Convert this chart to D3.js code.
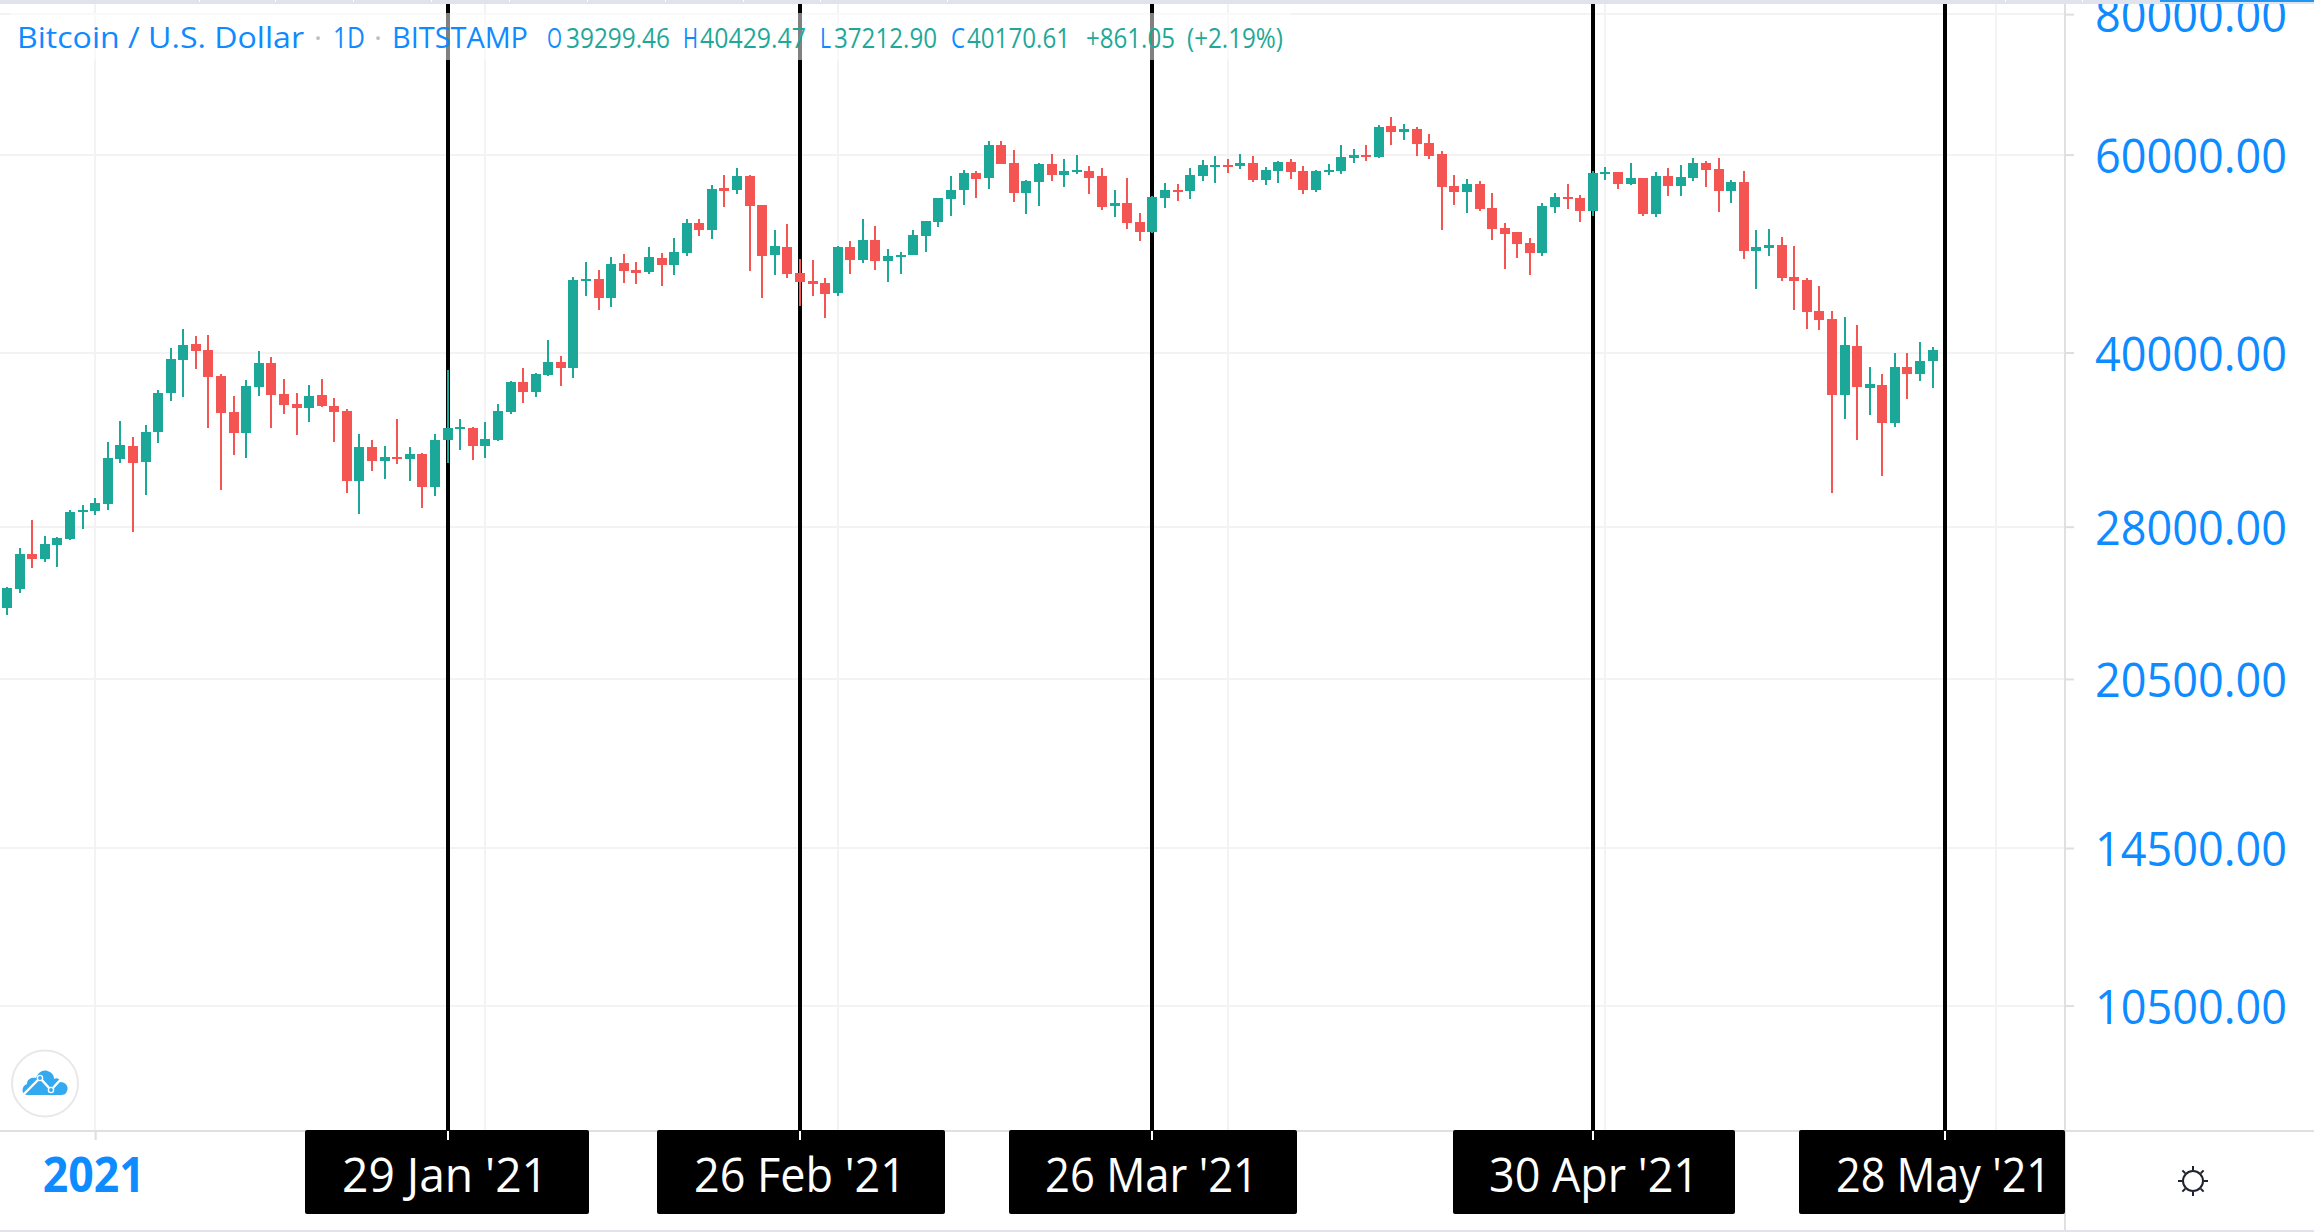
<!DOCTYPE html>
<html><head><meta charset="utf-8">
<script src="https://cdn.jsdelivr.net/npm/d3@7"></script>
<style>html,body{margin:0;background:#fff;overflow:hidden}svg{display:block}text{font-family:"Open Sans",sans-serif}</style>
</head><body><svg id="c" width="2314" height="1232"></svg>
<script>
const firstDay = Date.UTC(2020, 11, 25);
const priceTicks = [80000, 60000, 40000, 28000, 20500, 14500, 10500];
const monthTicks = [[2021,0,1],[2021,1,1],[2021,2,1],[2021,3,1],[2021,4,1],[2021,5,1]];
const markedDates = [[2021,0,29,"29 Jan '21"],[2021,1,26,"26 Feb '21"],[2021,2,26,"26 Mar '21"],[2021,3,30,"30 Apr '21"],[2021,4,28,"28 May '21"]];
const opens = [23726,24667,26499,26229,26992,27325,28878,28937,29354,32186,33054,31989,34015,36841,39416,40728,40231,38146,35436,33946,37297,39174,36766,36021,35728,36691,35874,35509,30769,32987,32055,32318,32186,32517,30394,33463,34225,34295,33054,33463,35436,37680,36917,38224,39255,38776,46333,46523,44748,48072,47388,47194,48566,47875,49066,52173,51430,56047,55818,57441,54130,48865,49672,47098,46333,46144,45209,49672,48368,50389,48269,48666,48865,50803,52279,54799,55818,57794,57206,61203,58989,55476,56740,58869,57558,57913,58031,57441,54020,54353,52279,51220,54912,55856,55704,57441,58588,58788,58628,58989,56972,58031,59110,58031,55818,57913,58031,59596,59963,59718,63630,62853,63240,61454,60086,56277,55590,56508,53799,51641,51220,50080,49066,53909,55024,54912,53470,57637,57913,56508,57206,53143,57441,56277,57206,58989,58269,55704,56740,49267,49570,49876,46714,46428,43574,42866,36691,40561,37220,37450,34647,38855,38302,39299.46];
const highs = [24768,26827,28409,27494,27437,28996,29294,29717,33326,34790,33669,34506,37068,40396,41998,41400,41485,38302,36616,37835,40148,39658,37912,36841,37450,37912,36466,35655,33876,33463,33054,34932,32987,32584,33876,38617,34932,34365,34718,36021,37758,38776,38381,41063,39740,46714,48170,47388,48666,48965,48170,49672,49066,50595,52601,52601,56392,57558,58389,57558,54130,51430,52066,48467,48368,46618,49774,50286,52601,51853,49469,49166,51430,52387,54912,57441,58150,58031,61706,61706,60580,56972,58989,60086,59474,59963,58628,58389,55818,57206,53251,55137,56623,56508,58389,59353,59841,59474,60086,59841,58508,59231,59474,58628,58150,58869,61203,60704,61203,63760,64813,63891,63500,62597,60456,57558,57089,56856,55476,52173,51220,50595,54353,55476,56508,55250,58031,58508,57913,58989,57206,57913,58389,58748,59596,59231,59596,56972,58031,51430,51536,50699,49774,46618,45861,43574,43042,42343,38855,38302,39984,39984,40895,40429.47];
const lows = [23389,24466,25751,26069,25803,27269,27890,28701,28996,31924,27720,29900,33258,36243,36541,38696,34295,30208,32451,32252,36616,34295,35292,33807,34718,35801,33326,30023,28760,31406,30896,31859,30769,29115,29839,31924,32785,32121,32252,33394,35292,36095,36541,38146,37373,37990,44932,43663,43932,46144,46049,47001,45861,46905,48765,50803,50492,53909,55363,47291,44748,46905,46618,44022,44932,42954,44932,47001,48072,47388,46238,47001,48865,49166,51747,52925,54130,54912,55932,58869,54464,53143,54020,56856,56162,57676,55363,53579,52817,51536,50286,51116,53799,54575,54799,56856,56623,57794,58269,56740,56392,56623,57089,55363,55590,57558,57676,58989,59231,59596,61203,61833,59841,59474,51430,54130,53251,53470,50389,47485,48566,46905,48765,53251,53689,52279,52925,56972,55932,56392,52925,52817,55137,55137,56856,56162,53360,54353,48467,45580,48765,46333,43663,41998,41912,30023,34932,33463,35219,31086,34365,36392,37758,37212.90];
const closes = [24718,26499,26229,27047,27381,28878,28996,29415,32252,33122,31924,34015,36841,39496,40645,40148,38068,35364,33946,37373,39174,36691,35948,35728,36616,35874,35436,30769,32987,32055,32318,32186,32517,30394,33463,34295,34365,33054,33531,35509,37680,36917,38302,39255,38776,46428,46523,44748,47973,47291,47098,48666,47875,49166,52173,51430,55932,55704,57441,54020,48765,49774,47001,46238,46049,45116,49672,48368,50389,48269,48765,48865,50907,52387,54912,55818,57794,57089,61203,58869,55476,56856,58869,57558,58031,58150,57206,53909,54353,52173,51220,55024,55818,55666,57558,58748,58748,58548,58989,56972,58150,59110,57913,55818,58031,58150,59718,59963,59718,63500,62853,63240,61328,59841,56162,55590,56508,53689,51536,51011,49978,49066,54020,55024,54799,53470,57794,57873,56508,57206,53143,57441,56277,57323,58989,58150,55704,56740,49267,49672,49876,46618,46333,43484,42778,36691,40645,37297,37526,34647,38855,38302,39335,40170.61];
const legendParts = [["Bitcoin / U.S. Dollar",17,304,"#0d8bff",30],["\u00b7",314,322,"#b9bcc6",30],["1D",333,365,"#0d8bff",30],["\u00b7",374,382,"#b9bcc6",30],["BITSTAMP",392,528,"#0d8bff",30],["O",547,562,"#0d8bff",27],["39299.46",566,670,"#1fa898",27],["H",683,698,"#0d8bff",27],["40429.47",700,806,"#1fa898",27],["L",820,831,"#0d8bff",27],["37212.90",834,937,"#1fa898",27],["C",951,965,"#0d8bff",27],["40170.61",967,1070,"#1fa898",27],["+861.05",1086,1175,"#1fa898",27],["(+2.19%)",1187,1283,"#1fa898",27]];
const labelBoxes = [[305,589,342,548],[657,945,694,906],[1009,1297,1045,1258],[1453,1735,1489,1699],[1799,2065,1836,2051]];

const UP = "#1ca899", DOWN = "#f45553", GRID = "#f3f3f3", EDGE = "#e0e0e2", BLUE = "#0d8bff";
const plotR = 2065, plotB = 1131, plotT = 4;
const svg = d3.select("#c");
const day = 864e5;
const x = d3.scaleUtc().domain([firstDay, Date.UTC(2021,5,1)]).range([7.1, 7.1 + 158 * 12.585]);
const y = d3.scaleLog().domain([80000, 10500]).range([14.1, 1005.6]);
const X = t => Math.round(x(t));
const dates = opens.map((_, i) => firstDay + i * day);

// grid and axes
const monthDates = monthTicks.map(m => Date.UTC(...m));
svg.append("g").selectAll("rect").data(priceTicks).join("rect").attr("x",0).attr("width",plotR).attr("y",d=>Math.round(y(d))-1).attr("height",2).attr("fill",GRID).attr("shape-rendering","crispEdges");
svg.append("g").selectAll("rect").data(monthDates).join("rect").attr("x",d=>X(d)-1).attr("width",2).attr("y",plotT).attr("height",plotB-plotT).attr("fill",GRID).attr("shape-rendering","crispEdges");

const yAxis = d3.axisRight(y).tickValues(priceTicks).tickSize(9).tickPadding(21).tickFormat(d3.format(".2f"));
const yg = svg.append("g").attr("transform",`translate(${plotR},0)`).call(yAxis);
yg.select(".domain").remove();
yg.selectAll(".tick line").attr("stroke","#dedede").attr("stroke-width",2);
yg.selectAll(".tick text").attr("fill",BLUE).attr("font-size",48).attr("textLength",192).attr("lengthAdjust","spacingAndGlyphs").attr("x",30).attr("dy",0).attr("y",17.5);

const xAxis = d3.axisBottom(x).tickValues(monthDates.slice(0,1)).tickSize(9).tickFormat(()=> "2021");
const xg = svg.append("g").attr("transform",`translate(0,${plotB})`).call(xAxis);
xg.select(".domain").remove();
xg.selectAll(".tick line").attr("stroke","#dedede").attr("stroke-width",2);
xg.selectAll(".tick text").attr("fill",BLUE).attr("font-size",48).attr("font-weight",700).attr("y",61).attr("dy",0).attr("x",-2).attr("textLength",102).attr("lengthAdjust","spacingAndGlyphs");
svg.append("g").selectAll("rect").data(monthDates.slice(1)).join("rect").attr("x",d=>X(d)-1).attr("width",2).attr("y",plotB).attr("height",9).attr("fill","#dedede");

// borders
svg.append("rect").attr("x",plotR-1).attr("width",2).attr("y",plotT).attr("height",1232-plotT).attr("fill",EDGE);
svg.append("rect").attr("x",0).attr("width",2314).attr("y",plotB-1).attr("height",2).attr("fill",EDGE);
svg.append("rect").attr("x",0).attr("width",2314).attr("y",1230).attr("height",2).attr("fill","#e0e3eb");

// date markers
const marks = markedDates.map((d,i)=>({t:Date.UTC(d[0],d[1],d[2]),label:d[3],box:labelBoxes[i]}));
svg.append("g").selectAll("rect").data(marks).join("rect").attr("x",d=>X(d.t)-2).attr("width",4).attr("y",plotT).attr("height",plotB-plotT).attr("fill","#000").attr("shape-rendering","crispEdges");

// candles
const cg = svg.append("g").attr("shape-rendering","crispEdges");
cg.selectAll("rect.w").data(dates).join("rect").attr("class","w").attr("x",d=>X(d)-1).attr("width",2).attr("y",(d,i)=>y(highs[i])).attr("height",(d,i)=>y(lows[i])-y(highs[i])).attr("fill",(d,i)=>closes[i]>=opens[i]?UP:DOWN);
cg.selectAll("rect.b").data(dates).join("rect").attr("class","b").attr("x",d=>X(d)-5).attr("width",10).attr("y",(d,i)=>y(Math.max(opens[i],closes[i]))).attr("height",(d,i)=>Math.max(2,Math.abs(y(opens[i])-y(closes[i])))).attr("fill",(d,i)=>closes[i]>=opens[i]?UP:DOWN);

// legend veil and text
svg.append("rect").attr("x",10).attr("width",1280).attr("y",13).attr("height",47).attr("fill","#fff").attr("fill-opacity",.5);
svg.append("g").selectAll("text").data(legendParts).join("text").attr("x",d=>d[1]).attr("y",48).attr("font-size",d=>d[4]).attr("fill",d=>d[3]).attr("textLength",d=>d[2]-d[1]).attr("lengthAdjust","spacingAndGlyphs").text(d=>d[0]);

// date labels
const lg = svg.append("g").selectAll("g").data(marks).join("g");
lg.append("rect").attr("x",d=>d.box[0]).attr("width",d=>d.box[1]-d.box[0]).attr("y",plotB-1).attr("height",84).attr("rx",2).attr("fill","#000");
lg.append("rect").attr("x",d=>X(d.t)-1).attr("width",2).attr("y",plotB).attr("height",9).attr("fill","#fff");
lg.append("text").attr("x",d=>d.box[2]).attr("y",1192).attr("font-size",48).attr("fill","#fff").attr("textLength",d=>d.box[3]-d.box[2]).attr("lengthAdjust","spacingAndGlyphs").text(d=>d.label);

// top strip
svg.append("rect").attr("x",0).attr("width",2314).attr("y",0).attr("height",4).attr("fill","#e0e3eb");
svg.append("g").selectAll("rect").data([199,275,353,431,509,587,665,743,820,947,2005,2082]).join("rect").attr("x",d=>d).attr("width",1).attr("y",0).attr("height",2).attr("fill","#fff");
svg.append("rect").attr("x",2160).attr("width",154).attr("y",0).attr("height",2).attr("fill","#2196f3");

// logo
const logo = svg.append("g");
logo.append("ellipse").attr("cx",45).attr("cy",1083.5).attr("rx",33).attr("ry",33).attr("fill","#fff").attr("stroke","#e8e8e8").attr("stroke-width",2);
logo.append("path").attr("fill","#33a9f0").attr("d","M27 1095 C21 1095 21 1086 27 1084 C27 1078 33 1077 36 1078 C38 1072 44 1068 50 1072 C53 1074 54 1076 54 1079 C57 1077 60 1079 60 1082 C66 1082 69 1087 67 1091 C66 1094 64 1095 61 1095 Z");
logo.append("polyline").attr("points","22,1096 40,1078 51,1090 63,1077").attr("fill","none").attr("stroke","#fff").attr("stroke-width",2.4);
logo.selectAll("circle").data([[40,1078],[51,1090]]).join("circle").attr("cx",d=>d[0]).attr("cy",d=>d[1]).attr("r",2.6).attr("fill","#33a9f0").attr("stroke","#fff").attr("stroke-width",1.4);

// settings sun
const sun = svg.append("g").attr("transform","translate(2193,1181)").attr("stroke","#1e222d").attr("stroke-width",2).attr("fill","none");
sun.append("circle").attr("r",10);
sun.selectAll("line").data(d3.range(8)).join("line").attr("x1",d=>11*Math.cos(d*Math.PI/4)).attr("y1",d=>11*Math.sin(d*Math.PI/4)).attr("x2",d=>15*Math.cos(d*Math.PI/4)).attr("y2",d=>15*Math.sin(d*Math.PI/4));
</script></body></html>
